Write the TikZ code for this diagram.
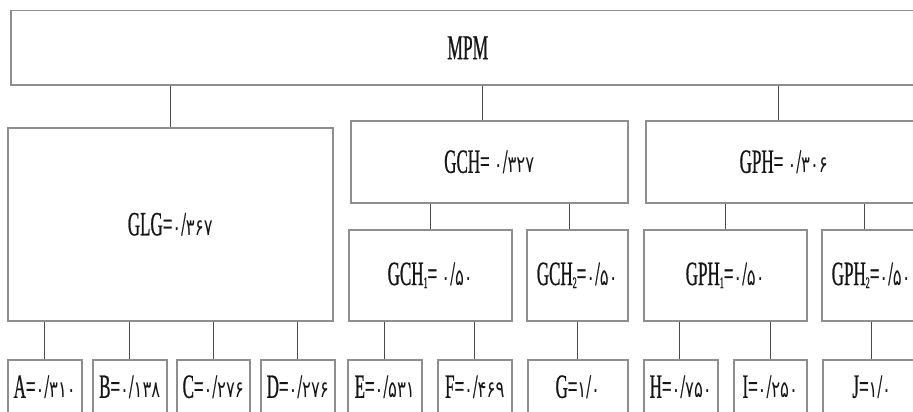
\documentclass[tikz,border=0pt]{standalone}
\usepackage{fontspec}
\setmainfont{Liberation Serif}[FakeStretch=0.5,FakeBold=0.6]
\newfontfamily\pdigits[Script=Arabic,FakeStretch=0.72]{DejaVu Sans}
% Persian digits in their own face, Latin letters in the condensed serif
\newcommand\pnum[1]{{\pdigits\fontsize{23}{23}\selectfont #1}}
\newcommand\lowidx[1]{\raisebox{-3pt}{\fontsize{16}{16}\selectfont #1}}
\definecolor{boxline}{HTML}{8E8E8E}
\definecolor{linkline}{HTML}{4A4A4A}
\definecolor{labeltext}{HTML}{151515}
\begin{document}
\begin{tikzpicture}[x=1pt,y=-1pt,
  box/.style={draw=boxline, line width=1.5pt, inner sep=0pt, anchor=north west,
    text=labeltext, font=\fontsize{34}{36}\selectfont},
  link/.style={draw=linkline, line width=1.3pt}]
\useasboundingbox (0,0) rectangle (913,412);
\fill[white] (0,0) rectangle (913,412);
\clip (0,0) rectangle (913,412);

% top level
\node[box, minimum width=914pt, minimum height=74pt, font=\fontsize{35}{36}\selectfont] (mpm) at (10,10) {MPM};

% criteria
\node[box, minimum width=325pt, minimum height=193pt] (glg) at (7,127) {GLG=\pnum{۰}/\pnum{۳۶۷}};
\node[box, minimum width=277pt, minimum height=82pt] (gch) at (350,120) {GCH= \pnum{۰}/\pnum{۳۲۷}};
\node[box, minimum width=276pt, minimum height=82pt] (gph) at (645,120) {GPH= \pnum{۰}/\pnum{۳۰۶}};

% sub-criteria
\node[box, minimum width=163pt, minimum height=91pt] (gch1) at (348,229) {GCH\lowidx{1}= \pnum{۰}/\pnum{۵۰}};
\node[box, minimum width=101pt, minimum height=91pt] (gch2) at (526,229) {GCH\lowidx{2}=\pnum{۰}/\pnum{۵۰}};
\node[box, minimum width=163pt, minimum height=91pt] (gph1) at (643,229) {GPH\lowidx{1}=\pnum{۰}/\pnum{۵۰}};
\node[box, minimum width=99pt, minimum height=91pt] (gph2) at (821,229) {GPH\lowidx{2}=\pnum{۰}/\pnum{۵۰}};

% alternatives
\node[box, minimum width=74pt, minimum height=54pt] (a) at (7,359) {A=\pnum{۰}/\pnum{۳۱۰}};
\node[box, minimum width=74pt, minimum height=54pt] (b) at (92,359) {B=\pnum{۰}/\pnum{۱۳۸}};
\node[box, minimum width=73pt, minimum height=54pt] (c) at (176,359) {C=\pnum{۰}/\pnum{۲۷۶}};
\node[box, minimum width=74pt, minimum height=54pt] (d) at (260,359) {D=\pnum{۰}/\pnum{۲۷۶}};
\node[box, minimum width=74pt, minimum height=54pt] (e) at (347,359) {E=\pnum{۰}/\pnum{۵۳۱}};
\node[box, minimum width=74pt, minimum height=54pt] (f) at (437,359) {F=\pnum{۰}/\pnum{۴۶۹}};
\node[box, minimum width=100pt, minimum height=54pt] (g) at (527,359) {G=\pnum{۱}/\pnum{۰}};
\node[box, minimum width=74pt, minimum height=54pt] (h) at (643,359) {H=\pnum{۰}/\pnum{۷۵۰}};
\node[box, minimum width=73pt, minimum height=54pt] (i) at (733,359) {I=\pnum{۰}/\pnum{۲۵۰}};
\node[box, minimum width=98pt, minimum height=54pt] (j) at (822,359) {J=\pnum{۱}/\pnum{۰}};

% vertical connector from a child's top edge up to its parent's bottom edge
\newcommand\vlink[3]{%
  \path ([xshift=#3]#1.north) coordinate (tmp);
  \draw[link] (tmp) -- (tmp |- #2.south);}

\vlink{glg}{mpm}{0pt}
\vlink{gch}{mpm}{-6.5pt}
\vlink{gph}{mpm}{-5pt}

\vlink{gch1}{gch}{0pt}
\vlink{gch2}{gch}{-7.5pt}
\vlink{gph1}{gph}{0pt}
\vlink{gph2}{gph}{-6.5pt}

\vlink{a}{glg}{0pt}
\vlink{b}{glg}{0pt}
\vlink{c}{glg}{0pt}
\vlink{d}{glg}{0pt}
\vlink{e}{gch1}{0pt}
\vlink{f}{gch1}{0pt}
\vlink{g}{gch2}{0pt}
\vlink{h}{gph1}{-1pt}
\vlink{i}{gph1}{0pt}
\vlink{j}{gph2}{0pt}
\end{tikzpicture}
\end{document}
